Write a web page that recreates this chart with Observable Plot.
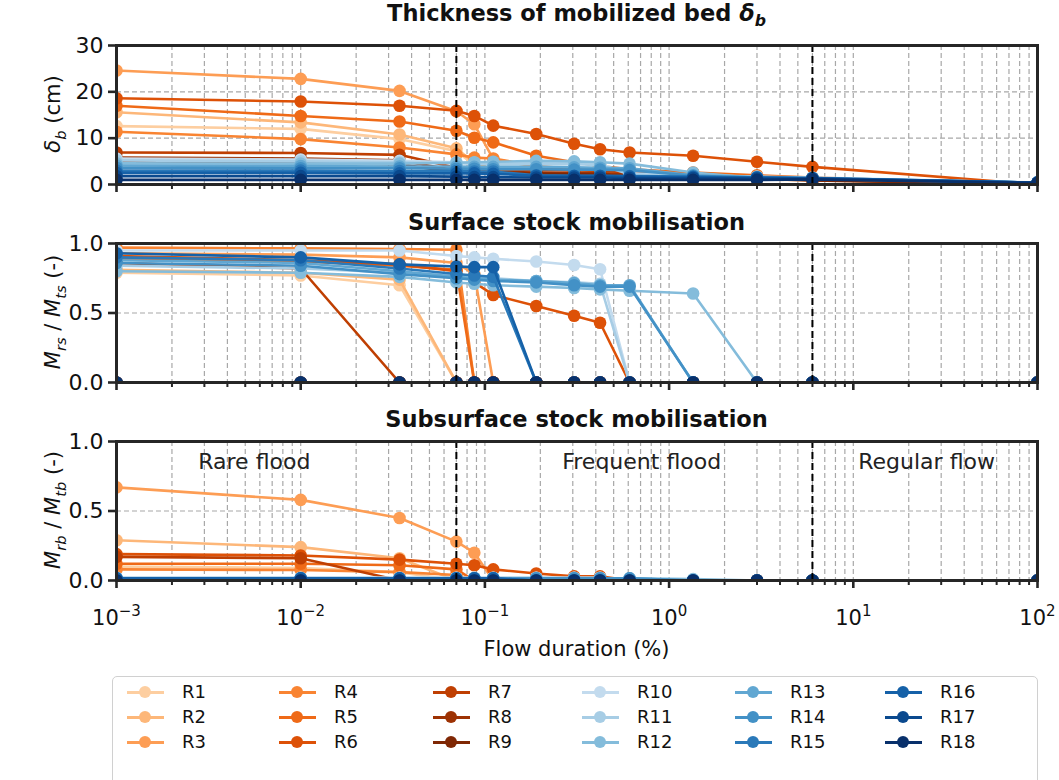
<!DOCTYPE html>
<html>
<head>
<meta charset="utf-8">
<script src="https://cdn.jsdelivr.net/npm/d3@7"></script>
<script src="https://cdn.jsdelivr.net/npm/@observablehq/plot@0.6"></script>
<style>
  body { margin: 0; background: #fff; font-family: "DejaVu Sans", sans-serif; color: #111; }
  #chart { position: relative; width: 1059px; height: 780px; overflow: hidden; background: #fff; }
  #chart svg { position: absolute; left: 0; }
  .title { position: absolute; left: 116px; width: 921px; text-align: center; font-weight: bold; font-size: 22.5px; line-height: 26px; transform: translateY(-50%); white-space: nowrap; }
  .ylab { position: absolute; font-size: 21px; white-space: nowrap; transform: translate(-50%, -50%) rotate(-90deg); line-height: 24px; }
  .ylab sub, .title sub { font-size: 0.7em; }
  .xlab { position: absolute; left: 116px; width: 921px; text-align: center; font-size: 21px; transform: translateY(-50%); }
  #legend { position: absolute; left: 112px; top: 676px; width: 926px; height: 130px; border: 1.5px solid #d0d0d0; border-radius: 5px; box-sizing: border-box; }
  .item { position: absolute; height: 20px; transform: translateY(-50%); font-size: 18px; line-height: 20px; white-space: nowrap; }
  .item .h { position: absolute; left: 0; top: 9px; width: 37px; height: 3px; }
  .item .d { position: absolute; left: 12px; top: 4px; width: 12px; height: 12px; border-radius: 50%; }
  .item .t { position: absolute; left: 55px; top: 0; }
</style>
</head>
<body>
<div id="chart"></div>
<script>
// ---------------- data ----------------
const flowDuration = [0.001, 0.01, 0.0344, 0.07, 0.0876, 0.111, 0.19, 0.305, 0.422, 0.61, 1.35, 3.0, 6.0, 100];
const runs = ["R1","R2","R3","R4","R5","R6","R7","R8","R9","R10","R11","R12","R13","R14","R15","R16","R17","R18"];

// Thickness of mobilized bed (cm)
const bedThickness = [
  [12.6, 12.0, 9.8, 7.2, 4.2, 3.0, 2.4, 2.1, 1.9, 1.7, 1.4, 1.1, 0.9, 0],
  [15.6, 13.4, 10.8, 7.8, 4.6, 3.3, 2.6, 2.3, 2.0, 1.8, 1.5, 1.2, 1.0, 0],
  [24.6, 22.8, 20.2, 15.8, 13.0, 5.5, 3.8, 3.2, 2.8, 2.4, 1.9, 1.5, 1.1, 0],
  [11.4, 9.8, 8.0, 6.5, 5.8, 5.6, 4.0, 3.4, 3.0, 2.6, 2.1, 1.6, 1.2, 0],
  [17.0, 14.8, 13.6, 11.6, 10.1, 9.1, 6.2, 4.8, 4.0, 3.3, 2.6, 2.0, 1.5, 0],
  [18.6, 17.9, 17.0, 15.9, 14.8, 12.7, 10.9, 8.8, 7.6, 6.9, 6.2, 4.9, 3.8, 0],
  [6.9, 6.8, 6.4, 3.6, 3.4, 3.3, 3.2, 3.1, 3.0, 2.6, 2.0, 1.6, 1.2, 0],
  [5.8, 5.6, 5.2, 3.0, 2.8, 2.7, 2.6, 2.5, 2.4, 2.1, 1.7, 1.3, 1.0, 0],
  [4.8, 4.7, 4.4, 2.6, 2.5, 2.4, 2.3, 2.2, 2.1, 1.8, 1.5, 1.2, 0.9, 0],
  [5.6, 5.4, 5.1, 4.8, 4.7, 4.6, 4.6, 4.6, 4.4, 2.4, 2.0, 1.7, 1.5, 0.4],
  [5.2, 5.0, 4.8, 4.6, 4.5, 4.4, 4.4, 4.4, 4.2, 2.2, 1.9, 1.6, 1.4, 0.4],
  [4.6, 4.5, 4.5, 4.7, 4.8, 4.9, 5.1, 5.0, 4.8, 4.5, 2.6, 1.4, 1.2, 0.4],
  [4.1, 4.0, 3.9, 3.9, 3.8, 3.8, 3.8, 3.7, 3.6, 3.5, 2.0, 1.6, 1.4, 0.4],
  [3.6, 3.5, 3.5, 3.4, 3.4, 3.3, 3.3, 3.2, 3.2, 3.1, 1.9, 1.5, 1.3, 0.4],
  [3.0, 3.0, 2.9, 2.9, 2.8, 2.8, 2.0, 1.9, 1.9, 1.8, 1.7, 1.5, 1.3, 0.4],
  [2.5, 2.5, 2.4, 2.4, 2.4, 2.3, 1.9, 1.8, 1.8, 1.7, 1.6, 1.5, 1.4, 0.4],
  [1.8, 1.8, 1.8, 1.7, 1.6, 1.6, 1.5, 1.5, 1.5, 1.4, 1.4, 1.3, 1.3, 0.4],
  [1.0, 1.0, 1.0, 1.0, 1.0, 1.0, 1.0, 1.0, 1.0, 1.0, 1.0, 1.0, 1.1, 0.3]
];

// Surface stock mobilisation Mrs / Mts (-)
const surfaceMobil = [
  [0.79, 0.77, 0.70, 0, 0, 0, 0, 0, 0, 0, 0, 0, 0, 0],
  [0.81, 0.79, 0.74, 0, 0, 0, 0, 0, 0, 0, 0, 0, 0, 0],
  [0.93, 0.92, 0.90, 0.86, 0.78, 0, 0, 0, 0, 0, 0, 0, 0, 0],
  [0.97, 0.965, 0.96, 0.955, 0, 0, 0, 0, 0, 0, 0, 0, 0, 0],
  [0.89, 0.87, 0.84, 0.81, 0, 0, 0, 0, 0, 0, 0, 0, 0, 0],
  [0.91, 0.88, 0.85, 0.80, 0.72, 0.63, 0.55, 0.48, 0.43, 0, 0, 0, 0, 0],
  [0.86, 0.82, 0, 0, 0, 0, 0, 0, 0, 0, 0, 0, 0, 0],
  [0, 0, 0, 0, 0, 0, 0, 0, 0, 0, 0, 0, 0, 0],
  [0, 0, 0, 0, 0, 0, 0, 0, 0, 0, 0, 0, 0, 0],
  [0.95, 0.95, 0.95, 0.91, 0.90, 0.89, 0.87, 0.845, 0.815, 0, 0, 0, 0, 0],
  [0.84, 0.82, 0.79, 0.77, 0.76, 0.75, 0.73, 0.72, 0.71, 0, 0, 0, 0, 0],
  [0.80, 0.79, 0.76, 0.72, 0.71, 0.70, 0.69, 0.68, 0.67, 0.66, 0.64, 0, 0, 0],
  [0.88, 0.86, 0.80, 0.76, 0.75, 0.74, 0.73, 0.715, 0.70, 0.70, 0, 0, 0, 0],
  [0.86, 0.84, 0.78, 0.75, 0.74, 0.73, 0.72, 0.70, 0.69, 0.69, 0, 0, 0, 0],
  [0.90, 0.88, 0.82, 0.78, 0.77, 0.76, 0, 0, 0, 0, 0, 0, 0, 0],
  [0.93, 0.90, 0.85, 0.835, 0.83, 0.83, 0, 0, 0, 0, 0, 0, 0, 0],
  [0, 0, 0, 0, 0, 0, 0, 0, 0, 0, 0, 0, 0, 0],
  [0, 0, 0, 0, 0, 0, 0, 0, 0, 0, 0, 0, 0, 0]
];

// Subsurface stock mobilisation Mrb / Mtb (-)
const subsurfaceMobil = [
  [0.10, 0.09, 0.06, 0, 0, 0, 0, 0, 0, 0, 0, 0, 0, 0],
  [0.29, 0.24, 0.16, 0, 0, 0, 0, 0, 0, 0, 0, 0, 0, 0],
  [0.67, 0.58, 0.45, 0.28, 0.20, 0, 0, 0, 0, 0, 0, 0, 0, 0],
  [0.08, 0.075, 0.06, 0.04, 0, 0, 0, 0, 0, 0, 0, 0, 0, 0],
  [0.12, 0.12, 0.11, 0.08, 0, 0, 0, 0, 0, 0, 0, 0, 0, 0],
  [0.19, 0.18, 0.15, 0.12, 0.11, 0.08, 0.05, 0.03, 0.03, 0, 0, 0, 0, 0],
  [0.17, 0.16, 0, 0, 0, 0, 0, 0, 0, 0, 0, 0, 0, 0],
  [0, 0, 0, 0, 0, 0, 0, 0, 0, 0, 0, 0, 0, 0],
  [0, 0, 0, 0, 0, 0, 0, 0, 0, 0, 0, 0, 0, 0],
  [0.02, 0.02, 0.02, 0.02, 0.02, 0.02, 0.02, 0.02, 0.02, 0, 0, 0, 0, 0],
  [0.02, 0.02, 0.02, 0.02, 0.02, 0.02, 0.02, 0.02, 0.02, 0, 0, 0, 0, 0],
  [0.015, 0.015, 0.015, 0.015, 0.015, 0.015, 0.015, 0.015, 0.015, 0.015, 0.01, 0, 0, 0],
  [0.015, 0.015, 0.015, 0.015, 0.015, 0.015, 0.015, 0.015, 0.015, 0.015, 0, 0, 0, 0],
  [0.015, 0.015, 0.015, 0.015, 0.015, 0.015, 0.015, 0.015, 0.015, 0.015, 0, 0, 0, 0],
  [0.015, 0.015, 0.015, 0.015, 0.015, 0.015, 0, 0, 0, 0, 0, 0, 0, 0],
  [0.015, 0.015, 0.015, 0.015, 0.015, 0.015, 0, 0, 0, 0, 0, 0, 0, 0],
  [0, 0, 0, 0, 0, 0, 0, 0, 0, 0, 0, 0, 0, 0],
  [0, 0, 0, 0, 0, 0, 0, 0, 0, 0, 0, 0, 0, 0]
];

const regimeBounds = [0.07, 6];
const regimeNames = ["Rare flood", "Frequent flood", "Regular flow"];
const regimeLabelX = [0.0056, 0.71, 25];
const regimeLabelY = [0.85, 0.85, 0.85];

const xMajorTicks = [0.001, 0.01, 0.1, 1, 10, 100];
const xTickExponents = ["\u22123", "\u22122", "\u22121", "0", "1", "2"];
const thicknessTicks = [0, 10, 20, 30];
const thicknessTickLabels = ["0", "10", "20", "30"];
const ratioTicks = [0, 0.5, 1];
const ratioTickLabels = ["0.0", "0.5", "1.0"];

// ---------------- styling ----------------
const nOr = 9;
const palette = [
  ...d3.range(nOr).map(i => d3.interpolateOranges(0.25 + 0.75 * i / (nOr - 1))),
  ...d3.range(nOr).map(i => d3.interpolateBlues(0.25 + 0.75 * i / (nOr - 1)))
];
const minorTicks = xMajorTicks.slice(0, -1).flatMap(b => d3.range(2, 10).map(k => b * k));

const chart = document.getElementById("chart");

function panel(values, o) {
  const rows = runs.flatMap((run, i) => flowDuration.map((x, j) => ({run, x, y: values[i][j]})));
  const marks = [
    Plot.gridX(minorTicks.concat(xMajorTicks), {stroke: "#a8a8a8", strokeOpacity: 1, strokeWidth: 1.2, strokeDasharray: "5,3"}),
    Plot.gridY(o.yTicks, {stroke: "#a8a8a8", strokeOpacity: 1, strokeWidth: 1.2, strokeDasharray: "5,3"})
  ];
  runs.forEach(run => {
    const d = rows.filter(r => r.run === run);
    marks.push(Plot.line(d, {x: "x", y: "y", stroke: "run", strokeWidth: 2.6, clip: true}));
    marks.push(Plot.dot(d, {x: "x", y: "y", fill: "run", r: 6.3, clip: true}));
  });
  if (o.regimeText) {
    marks.push(Plot.text(regimeNames, {x: (d, i) => regimeLabelX[i], y: (d, i) => regimeLabelY[i], text: d => d, fontSize: 22, fill: "#222", textAnchor: "middle"}));
  }
  marks.push(Plot.ruleX(regimeBounds, {stroke: "#000", strokeWidth: 2, strokeDasharray: "7,4"}));
  marks.push(Plot.frame({stroke: "#262626", strokeWidth: 3}));
  marks.push(Plot.axisX(xMajorTicks, {tickSize: 8, strokeWidth: 2.6, stroke: "#262626", tickPadding: 22, fontSize: 21,
    tickFormat: o.xLabels ? (d => xTickExponents[xMajorTicks.indexOf(d)]) : (() => ""), label: null}));
  marks.push(Plot.axisX(minorTicks, {tickSize: 5, strokeWidth: 2, stroke: "#262626", tickFormat: () => "", label: null}));
  marks.push(Plot.axisY(o.yTicks, {tickSize: 8, strokeWidth: 2.6, stroke: "#262626", tickPadding: 5, fontSize: 22,
    tickFormat: d => o.yLabels[o.yTicks.indexOf(d)], label: null}));
  const svg = Plot.plot({
    width: 1059, height: o.height,
    marginLeft: 116, marginRight: 22, marginTop: o.marginTop, marginBottom: o.marginBottom,
    x: {type: "log", domain: [0.001, 100]},
    y: {domain: o.yDomain},
    color: {domain: runs, range: palette},
    style: {background: "transparent", overflow: "visible", fontFamily: "'DejaVu Sans', sans-serif", color: "#111"},
    marks
  });
  svg.style.top = o.top + "px";
  chart.appendChild(svg);
  // superscript exponents for x tick labels
  if (o.xLabels) {
    d3.select(svg).selectAll("text").each(function() {
      const t = this.textContent;
      if (xTickExponents.includes(t) && this.closest('g[aria-label*="x-axis"]')) {
        const sel = d3.select(this);
        sel.text("");
        sel.append("tspan").text("10");
        sel.append("tspan").attr("dy", "-9").attr("font-size", "15px").text(t);
      }
    });
  }
  return svg;
}

panel(bedThickness, {top: 0, height: 198, marginTop: 45, marginBottom: 14, yDomain: [0, 30], yTicks: thicknessTicks, yLabels: thicknessTickLabels});
panel(surfaceMobil, {top: 200, height: 196, marginTop: 43, marginBottom: 14, yDomain: [0, 1], yTicks: ratioTicks, yLabels: ratioTickLabels});
panel(subsurfaceMobil, {top: 400, height: 240, marginTop: 41, marginBottom: 60, yDomain: [0, 1], yTicks: ratioTicks, yLabels: ratioTickLabels, xLabels: true, regimeText: true});

// ---------------- text ----------------
function addHTML(cls, html, style) {
  const el = document.createElement("div");
  el.className = cls;
  el.innerHTML = html;
  Object.assign(el.style, style);
  chart.appendChild(el);
  return el;
}
addHTML("title", 'Thickness of mobilized bed <i>δ<sub>b</sub></i>', {top: "17px"});
addHTML("title", 'Surface stock mobilisation', {top: "222px"});
addHTML("title", 'Subsurface stock mobilisation', {top: "419px"});
addHTML("ylab", '<i>δ<sub>b</sub></i> (cm)', {left: "57px", top: "114px"});
addHTML("ylab", '<i>M<sub>rs</sub></i> / <i>M<sub>ts</sub></i> (-)', {left: "57px", top: "312px"});
addHTML("ylab", '<i>M<sub>rb</sub></i> / <i>M<sub>tb</sub></i> (-)', {left: "57px", top: "510px"});
addHTML("xlab", 'Flow duration (%)', {top: "649px"});

// ---------------- legend ----------------
const legend = document.createElement("div");
legend.id = "legend";
chart.appendChild(legend);
const colLeft = [14, 166, 320, 469, 622, 772];
const rowTop = [15, 40, 65];
runs.forEach((run, i) => {
  const c = Math.floor(i / 3), r = i % 3;
  const it = document.createElement("div");
  it.className = "item";
  it.style.left = colLeft[c] + "px";
  it.style.top = rowTop[r] + "px";
  it.innerHTML = `<div class="h" style="background:${palette[i]}"></div><div class="d" style="background:${palette[i]}"></div><div class="t">${run}</div>`;
  legend.appendChild(it);
});
</script>
</body>
</html>
